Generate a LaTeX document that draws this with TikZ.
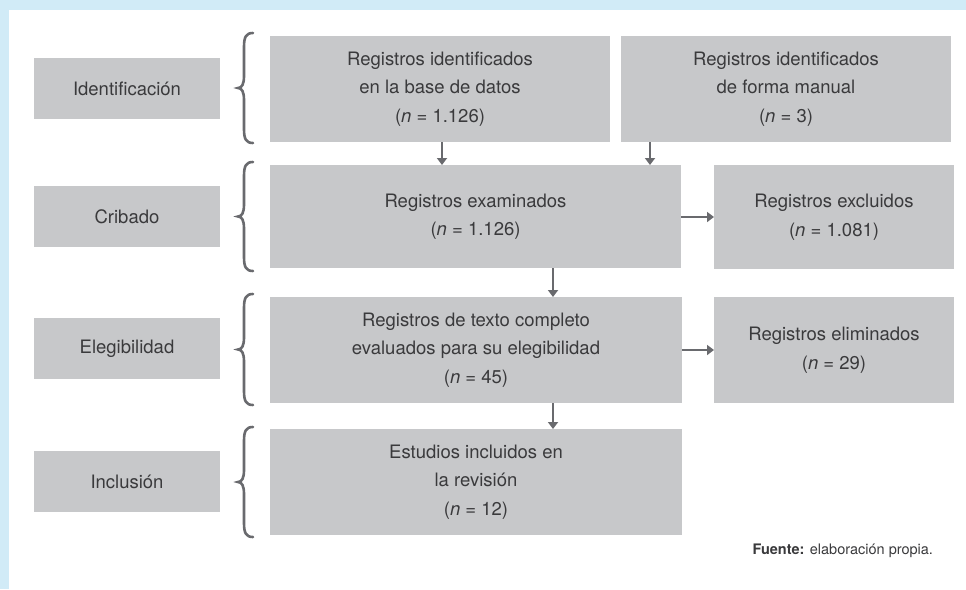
\documentclass[tikz,border=0pt]{standalone}
\usepackage{fontspec}
\setmainfont{TeX Gyre Heros}
\usetikzlibrary{calc,arrows.meta}
\definecolor{boxgray}{RGB}{199,200,202}
\definecolor{txtgray}{RGB}{58,58,60}
\definecolor{linegray}{RGB}{105,106,110}
\definecolor{bandblue}{RGB}{209,235,247}
\newcommand\stagebrace[2]{%
  \pgfmathsetmacro\bt{#1}\pgfmathsetmacro\bb{#2}%
  \pgfmathsetmacro\bm{(#1+#2)/2}%
  \draw[bracestyle] (253,\bt) .. controls (246,\bt) and (244,\bt+4) .. (244,\bt+14)
    -- (244,\bm-12) .. controls (244,\bm-4) and (242,\bm) .. (238,\bm)
    .. controls (242,\bm) and (244,\bm+4) .. (244,\bm+12)
    -- (244,\bb-14) .. controls (244,\bb-4) and (246,\bb) .. (253,\bb);}
\begin{document}
\begin{tikzpicture}[x=1pt,y=-1pt,
  every node/.style={inner sep=0pt,outer sep=0pt},
  basebox/.style={fill=boxgray,text=txtgray,align=center,anchor=north west,
    font=\fontsize{18.5}{28.5}\selectfont},
  stagebox/.style={basebox,minimum width=186pt,minimum height=61pt},
  arr/.style={draw=linegray,line width=2pt,-{Triangle[length=7pt,width=10pt]}},
  bracestyle/.style={draw=linegray,line width=2.6pt,line cap=round}]
\useasboundingbox (0,0) rectangle (966,589);
\fill[white] (0,0) rectangle (966,589);
\fill[bandblue] (0,0) rectangle (966,10);
\fill[bandblue] (0,0) rectangle (9,589);

% stage labels
\node[stagebox] (sid) at (34,58) {Identificación};
\node[stagebox] (scr) at (34,186) {Cribado};
\node[stagebox] (sel) at (34,318) {Elegibilidad};
\node[stagebox] (sin) at (34,451) {Inclusión};

% braces
\stagebrace{33}{143}
\stagebrace{162}{271}
\stagebrace{294}{405}
\stagebrace{427}{537}

% main boxes
\node[basebox,minimum width=340pt,minimum height=106pt] (db) at (270,36)
  {Registros identificados\\en la base de datos\\(\textit{n} = 1.126)};
\node[basebox,minimum width=330pt,minimum height=106pt] (manual) at (621,36)
  {Registros identificados\\de forma manual\\(\textit{n} = 3)};
\node[basebox,minimum width=411pt,minimum height=103pt] (exam) at (270,165)
  {Registros examinados\\(\textit{n} = 1.126)};
\node[basebox,minimum width=240pt,minimum height=104pt] (excl) at (714,165)
  {Registros excluidos\\(\textit{n} = 1.081)};
\node[basebox,minimum width=412pt,minimum height=106pt] (eval) at (270,297)
  {Registros de texto completo\\evaluados para su elegibilidad\\(\textit{n} = 45)};
\node[basebox,minimum width=240pt,minimum height=106pt] (elim) at (714,297)
  {Registros eliminados\\(\textit{n} = 29)};
\node[basebox,minimum width=412pt,minimum height=106pt] (incl) at (270,429)
  {Estudios incluidos en\\la revisión\\(\textit{n} = 12)};

% connectors
\draw[arr] ([xshift=172pt]db.south west) -- ([xshift=172pt]exam.north west);
\draw[arr] ([xshift=29pt]manual.south west) -- ([xshift=380pt]exam.north west);
\draw[arr] (exam.east |- excl.west) -- (excl.west);
\draw[arr] ([xshift=283pt]exam.south west) -- ([xshift=283pt]eval.north west);
\draw[arr] (eval.east |- elim.west) -- (elim.west);
\draw[arr] ([xshift=283pt]eval.south west) -- ([xshift=283pt]incl.north west);

% source
\node[anchor=base east,text=txtgray,font=\fontsize{14.5}{17}\selectfont] (src) at (933,554)
  {\textbf{Fuente:} elaboración propia.};
\end{tikzpicture}
\end{document}
